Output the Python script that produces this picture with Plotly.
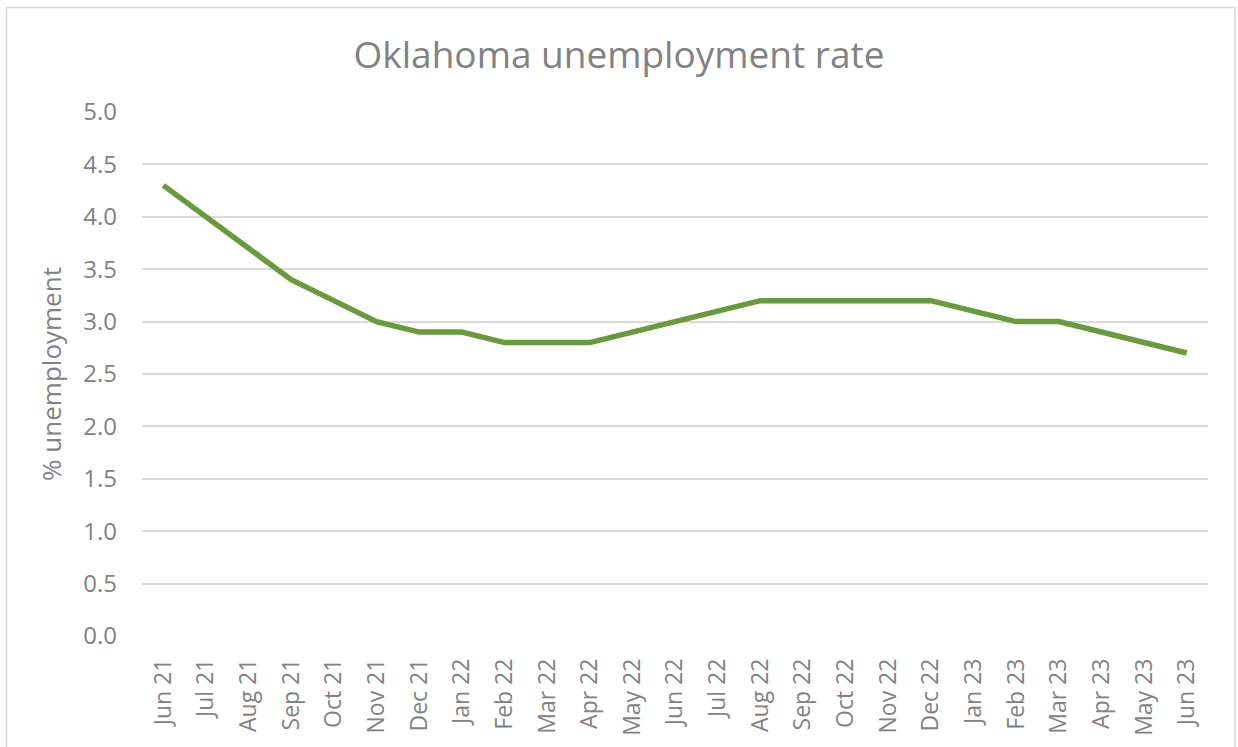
import plotly.graph_objects as go

# Monthly labels and Oklahoma unemployment rate (%)
months = ["Jun 21", "Jul 21", "Aug 21", "Sep 21", "Oct 21", "Nov 21", "Dec 21",
          "Jan 22", "Feb 22", "Mar 22", "Apr 22", "May 22", "Jun 22", "Jul 22",
          "Aug 22", "Sep 22", "Oct 22", "Nov 22", "Dec 22", "Jan 23", "Feb 23",
          "Mar 23", "Apr 23", "May 23", "Jun 23"]
rate = [4.3, 4.0, 3.7, 3.4, 3.2, 3.0, 2.9, 2.9, 2.8, 2.8, 2.8, 2.9, 3.0, 3.1,
        3.2, 3.2, 3.2, 3.2, 3.2, 3.1, 3.0, 3.0, 2.9, 2.8, 2.7]
y_ticks = [0.0, 0.5, 1.0, 1.5, 2.0, 2.5, 3.0, 3.5, 4.0, 4.5, 5.0]

W, H = 1238, 747
L, R, T, B = 142, 30, 112, 111
pw, ph = W - L - R, H - T - B

grey = "#828282"
font = "Open Sans"

fig = go.Figure()
fig.add_trace(go.Scatter(
    x=months, y=rate, mode="lines",
    line=dict(color="#689b3c", width=5.5, shape="linear"),
    hoverinfo="x+y", showlegend=False,
))

def px_x(p):
    return (p - L) / pw

def px_y(p):
    return (H - B - p) / ph

fig.update_layout(
    width=W, height=H,
    margin=dict(l=L, r=R, t=T, b=B),
    paper_bgcolor="white", plot_bgcolor="white",
    font=dict(family=font, color=grey),
    title=dict(text="Oklahoma unemployment rate", x=0.5,
               xref="container", xanchor="center", y=1 - 55 / H, yanchor="middle",
               font=dict(family=font, size=37, color=grey)),
    xaxis=dict(
        type="category", range=[-0.5, len(months) - 0.5],
        tickangle=-90, tickfont=dict(size=23, color=grey),
        showgrid=False, zeroline=False, showline=False, ticks="",
        ticklabelstandoff=17,
    ),
    yaxis=dict(
        range=[0, 5.0], tickvals=y_ticks, ticktext=[f"{v:.1f}" for v in y_ticks],
        tickfont=dict(size=24, color=grey),
        showgrid=True, gridcolor="#d9d9d9", gridwidth=1.5,
        zeroline=False, showline=False, ticks="",
        ticklabelstandoff=24,
        title=dict(text="% unemployment", font=dict(size=26, color=grey), standoff=14),
    ),
    shapes=[dict(
        type="rect", xref="paper", yref="paper",
        x0=px_x(6.5), x1=px_x(1235), y0=px_y(760), y1=px_y(7.5),
        line=dict(color="#d9d9d9", width=1.5), fillcolor="rgba(0,0,0,0)", layer="below",
    )],
)

fig.write_html("out.html")
